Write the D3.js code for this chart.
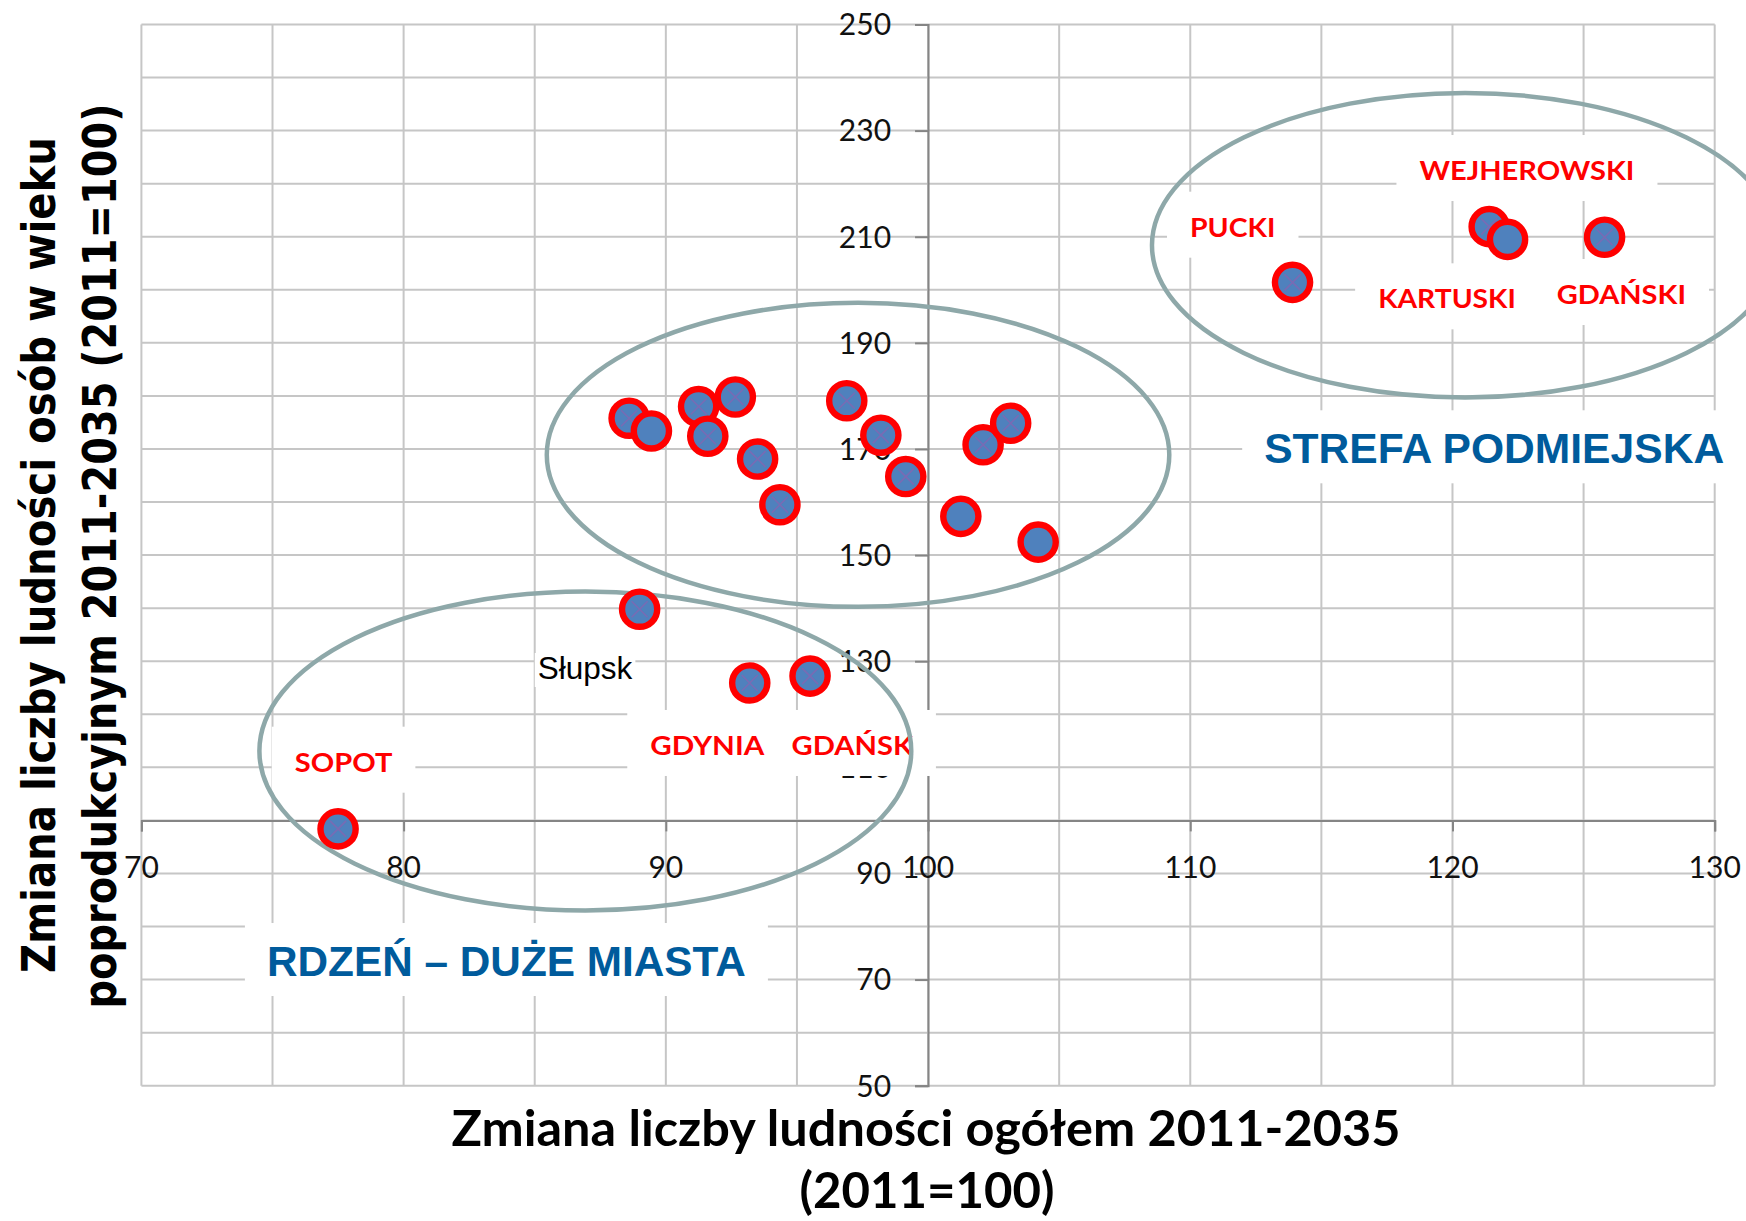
<!DOCTYPE html>
<html>
<head>
<meta charset="utf-8">
<script src="https://cdn.jsdelivr.net/npm/d3@7"></script>
<style>
  html, body { margin: 0; padding: 0; background: #ffffff; }
  svg { display: block; }
</style>
</head>
<body>
<svg id="chart" width="1746" height="1221"></svg>
<script>
// ---------------- DATA ----------------
// units (powiaty / miasta) – names shown only where the chart labels them
const units = ["SOPOT", "Słupsk", "GDYNIA", "GDAŃSK",
  "powiat A", "powiat B", "powiat C", "powiat D", "powiat E", "powiat F", "powiat G",
  "powiat H", "powiat I", "powiat J", "powiat K", "powiat L", "powiat M", "powiat N",
  "PUCKI", "WEJHEROWSKI", "KARTUSKI", "GDAŃSKI"];
// Zmiana liczby ludności ogółem 2011-2035 (2011=100)
const totalChange = [77.5, 89.0, 93.2, 95.5,
  88.6, 89.45, 91.25, 91.6, 92.65, 93.5, 94.35,
  96.9, 98.2, 99.15, 101.25, 102.1, 103.15, 104.2,
  113.9, 121.4, 122.1, 125.8];
// Zmiana liczby ludności w wieku poprodukcyjnym 2011-2035 (2011=100)
const postWorkingChange = [98.4, 139.8, 125.9, 127.2,
  175.8, 173.4, 178.0, 172.4, 179.8, 168.1, 159.5,
  179.1, 172.6, 164.8, 157.3, 170.8, 174.85, 152.45,
  201.4, 211.9, 209.5, 209.9];
// whether the faint "x" marker of the second series is visible on top
const crossMarker = [1, 1, 1, 1,
  1, 0, 1, 1, 1, 1, 1,
  1, 1, 1, 0, 1, 1, 0,
  1, 1, 0, 1];

const xTickLabels = [70, 80, 90, 100, 110, 120, 130];
const yTickLabels = [50, 70, 90, 110, 130, 150, 170, 190, 210, 230, 250];

// grouping ellipses (centre and radii in data units)
const groupNames = ["rdzeń", "środek", "strefa podmiejska"];
const groupCx = [86.93, 97.33, 120.48];
const groupCy = [113.08, 168.9, 208.4];
const groupRx = [12.43, 11.87, 11.94];
const groupRy = [30.06, 28.65, 28.7];

// ---------------- ANNOTATIONS (data-unit anchors) ----------------
const annotations = [
  { text: "WEJHEROWSKI", x: 122.84, y: 220.69, w: 215, kind: "red" },
  { text: "PUCKI", x: 111.62, y: 210.01, w: 85.5, kind: "red" },
  { text: "KARTUSKI", x: 119.79, y: 196.51, w: 137.7, kind: "red" },
  { text: "GDAŃSKI", x: 126.44, y: 197.32, w: 129.3, kind: "red" },
  { text: "SOPOT", x: 77.71, y: 109.18, w: 97.6, kind: "red" },
  { text: "GDYNIA", x: 91.58, y: 112.33, w: 114, kind: "red" },
  { text: "GDAŃSK", x: 97.11, y: 112.33, w: 121.3, kind: "red" },
  { text: "Słupsk", x: 86.92, y: 126.65, w: 94.6, kind: "black" },
  { text: "STREFA PODMIEJSKA", x: 121.59, y: 167.3, w: 460, kind: "blue" },
  { text: "RDZEŃ – DUŻE MIASTA", x: 83.92, y: 70.67, w: 479, kind: "blue" }
];
const styles = {
  red:   { font: "Lato", weight: 700, size: 27.5, fill: "#ff0000", padX: 23, above: 45, below: 21 },
  black: { font: "Liberation Sans", weight: 400, size: 31, fill: "#000000", padX: 3, above: 26, below: 8 },
  blue:  { font: "Liberation Sans", weight: 700, size: 43, fill: "#005b9c", padX: 22, above: 53, below: 20 }
};

// ---------------- CHART ----------------
const svg = d3.select("#chart");
const x = d3.scaleLinear().domain([70, 130]).range([141.4, 1714.7]);
const y = d3.scaleLinear().domain([50, 250]).range([1085.7, 24.5]);

const gridColor = "#c6c6c6";
const axisColor = "#858585";

// gridlines
const grid = svg.append("g");
grid.selectAll("line.v").data(x.ticks(12)).join("line")
  .attr("x1", d => x(d)).attr("x2", d => x(d))
  .attr("y1", y(50)).attr("y2", y(250))
  .attr("stroke", gridColor).attr("stroke-width", 2);
grid.selectAll("line.h").data(y.ticks(20)).join("line")
  .attr("x1", x(70)).attr("x2", x(130))
  .attr("y1", d => y(d)).attr("y2", d => y(d))
  .attr("stroke", gridColor).attr("stroke-width", 2);

// axes crossing at (100, 100)
const xAxis = d3.axisBottom(x).tickValues(xTickLabels).tickSize(11).tickFormat("");
const yAxis = d3.axisLeft(y).tickValues(yTickLabels).tickSize(13).tickFormat("");
const gx = svg.append("g").attr("transform", `translate(0,${y(100)})`).call(xAxis);
const gy = svg.append("g").attr("transform", `translate(${x(100)},0)`).call(yAxis);
[gx, gy].forEach(g => {
  g.select(".domain").attr("stroke", axisColor).attr("stroke-width", 2);
  g.selectAll(".tick line").attr("stroke", axisColor).attr("stroke-width", 2);
});

// tick labels
const tickFont = "Lato, 'Open Sans', sans-serif";
svg.append("g").selectAll("text").data(xTickLabels).join("text")
  .attr("x", d => x(d)).attr("y", y(100) + 58)
  .attr("text-anchor", "middle")
  .attr("font-family", tickFont).attr("font-size", 30).attr("fill", "#111")
  .text(d => d);
svg.append("g").selectAll("text").data(yTickLabels).join("text")
  .attr("x", x(100) - 37).attr("y", d => y(d) + 10.8)
  .attr("text-anchor", "end")
  .attr("font-family", tickFont).attr("font-size", 30).attr("fill", "#111")
  .text(d => d);

// label backgrounds
const labels = svg.append("g");
labels.selectAll("rect").data(annotations).join("rect")
  .attr("x", d => x(d.x) - d.w / 2 - styles[d.kind].padX)
  .attr("width", d => d.w + 2 * styles[d.kind].padX)
  .attr("y", d => y(d.y) - styles[d.kind].above)
  .attr("height", d => styles[d.kind].above + styles[d.kind].below)
  .attr("fill", "#ffffff");
labels.selectAll("text").data(annotations).join("text")
  .attr("x", d => x(d.x)).attr("y", d => y(d.y))
  .attr("text-anchor", "middle")
  .attr("font-family", d => styles[d.kind].font)
  .attr("font-weight", d => styles[d.kind].weight)
  .attr("font-size", d => styles[d.kind].size)
  .attr("fill", d => styles[d.kind].fill)
  .attr("textLength", d => d.w)
  .attr("lengthAdjust", "spacingAndGlyphs")
  .text(d => d.text);

// group ellipses
svg.append("g").selectAll("ellipse").data(groupNames).join("ellipse")
  .attr("cx", (d, i) => x(groupCx[i]))
  .attr("cy", (d, i) => y(groupCy[i]))
  .attr("rx", (d, i) => x(70 + groupRx[i]) - x(70))
  .attr("ry", (d, i) => y(50) - y(50 + groupRy[i]))
  .attr("fill", "none")
  .attr("stroke", "#8ea8a9")
  .attr("stroke-width", 4.5);

// points
const pts = svg.append("g").selectAll("g").data(units).join("g")
  .attr("transform", (d, i) => `translate(${x(totalChange[i])},${y(postWorkingChange[i])})`);
pts.append("circle")
  .attr("r", 17.6)
  .attr("fill", "#4f81bd")
  .attr("stroke", "#ff0000")
  .attr("stroke-width", 6.4);
pts.filter((d, i) => crossMarker[i] === 1).append("path")
  .attr("d", "M-8,-8L8,8M-8,8L8,-8")
  .attr("stroke", "#8a63b0")
  .attr("stroke-opacity", 0.7)
  .attr("stroke-width", 1.6)
  .attr("fill", "none");

// axis titles
svg.append("text")
  .attr("x", 926).attr("y", 1146)
  .attr("text-anchor", "middle")
  .attr("font-family", "Lato, sans-serif").attr("font-weight", 700)
  .attr("font-size", 50).attr("fill", "#000")
  .attr("textLength", 949).attr("lengthAdjust", "spacingAndGlyphs")
  .text("Zmiana liczby ludności ogółem 2011-2035");
svg.append("text")
  .attr("x", 927).attr("y", 1208)
  .attr("text-anchor", "middle")
  .attr("font-family", "Lato, sans-serif").attr("font-weight", 700)
  .attr("font-size", 50).attr("fill", "#000")
  .attr("textLength", 255).attr("lengthAdjust", "spacingAndGlyphs")
  .text("(2011=100)");

const yTitle = svg.append("g");
yTitle.append("text")
  .attr("transform", "translate(55,555) rotate(-90)")
  .attr("text-anchor", "middle")
  .attr("font-family", "'DejaVu Sans', sans-serif").attr("font-weight", 700)
  .attr("font-size", 46).attr("fill", "#000")
  .attr("textLength", 836).attr("lengthAdjust", "spacingAndGlyphs")
  .text("Zmiana liczby ludności osób w wieku");
yTitle.append("text")
  .attr("transform", "translate(116,556) rotate(-90)")
  .attr("text-anchor", "middle")
  .attr("font-family", "'DejaVu Sans', sans-serif").attr("font-weight", 700)
  .attr("font-size", 46).attr("fill", "#000")
  .attr("textLength", 905).attr("lengthAdjust", "spacingAndGlyphs")
  .text("poprodukcyjnym 2011-2035 (2011=100)");
</script>
</body>
</html>
